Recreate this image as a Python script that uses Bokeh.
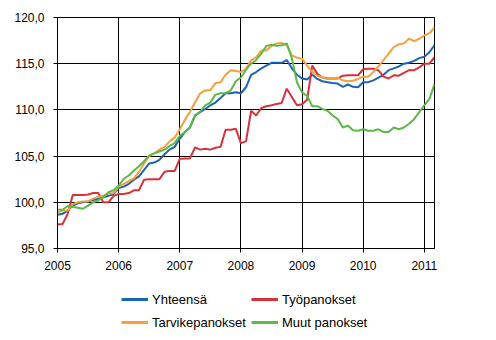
from bokeh.plotting import figure
from bokeh.layouts import column
from bokeh.models import Range1d, FixedTicker, Legend, LegendItem
from bokeh.embed import file_html
from bokeh.resources import INLINE

# Months since January 2005 (2005-01 .. 2011-03)
months = list(range(75))

yhteensa = [98.65, 98.75, 99.1, 99.65, 99.9, 100.0, 100.1, 100.25, 100.35, 100.55, 100.7, 100.9,
            101.55, 101.7, 102.0, 102.45, 102.8, 103.5, 104.2, 104.3, 104.6, 105.2, 105.7, 106.0,
            106.9, 107.6, 108.1, 109.4, 109.75, 110.1, 110.5, 110.8, 111.3, 111.8, 111.8, 111.9,
            111.8, 112.45, 113.8, 114.1, 114.5, 114.8, 115.1, 115.1, 115.1, 115.4, 114.5, 113.8,
            113.4, 113.3, 113.8, 113.35, 113.1, 113.0, 112.9, 112.85, 112.5, 112.75, 112.5, 112.45,
            113.0, 113.0, 113.2, 113.5, 113.8, 114.3, 114.5, 114.7, 115.0, 115.1, 115.3, 115.6,
            115.75, 116.25, 117.0]

tyopanokset = [97.6, 97.65, 98.75, 100.8, 100.8, 100.8, 100.85, 101.0, 101.0, 100.0, 100.0, 100.7,
               100.9, 100.9, 101.0, 101.3, 101.3, 102.45, 102.5, 102.5, 102.5, 103.3, 103.4, 103.4,
               104.7, 104.75, 104.75, 105.95, 105.7, 105.8, 105.7, 105.9, 106.0, 107.85, 107.85, 107.95,
               106.4, 106.6, 109.9, 109.4, 110.2, 110.4, 110.5, 110.65, 110.75, 112.3, 111.4, 110.5,
               110.6, 111.1, 114.8, 113.9, 113.5, 113.4, 113.4, 113.4, 113.7, 113.75, 113.75, 113.75,
               114.4, 114.45, 114.45, 114.3, 113.6, 113.4, 113.75, 113.7, 114.0, 114.3, 114.3, 114.6,
               115.0, 115.0, 115.7]

tarvikepanokset = [98.9, 99.1, 99.1, 99.8, 100.0, 100.1, 100.1, 100.4, 100.6, 100.7, 100.95, 101.0,
                   101.7, 102.0, 102.3, 102.6, 103.3, 104.2, 105.0, 105.3, 105.7, 106.0, 106.6, 107.0,
                   107.9, 108.9, 109.8, 110.8, 111.8, 112.1, 112.15, 112.9, 113.0, 113.8, 114.3, 114.2,
                   114.1, 114.45, 115.35, 115.7, 116.4, 116.45, 116.9, 117.2, 117.25, 117.0, 115.9, 115.65,
                   115.55, 114.8, 114.1, 113.7, 113.5, 113.35, 113.35, 113.5, 113.2, 113.1, 113.15, 113.35,
                   113.6, 113.6, 114.1, 114.7, 115.4, 116.1, 116.8, 117.1, 117.2, 117.7, 117.45, 117.7,
                   118.05, 118.3, 118.9]

muut_panokset = [99.2, 99.2, 99.6, 99.5, 99.4, 99.3, 99.65, 100.0, 100.2, 100.55, 101.1, 101.3,
                 101.8, 102.55, 102.9, 103.45, 103.9, 104.45, 105.05, 105.3, 105.5, 105.7, 106.1, 106.4,
                 107.2, 107.6, 108.1, 109.4, 109.8, 110.5, 110.8, 111.65, 111.8, 111.8, 112.1, 113.1,
                 113.5, 114.35, 115.0, 115.4, 116.1, 116.9, 117.05, 116.95, 117.0, 117.2, 115.6, 113.0,
                 111.9, 111.5, 110.4, 110.4, 110.1, 109.9, 109.4, 109.0, 108.1, 108.3, 107.8, 107.75,
                 107.9, 107.75, 107.75, 107.9, 107.6, 107.6, 108.1, 107.9, 108.1, 108.5, 109.0, 109.75,
                 110.5, 111.2, 112.8]

year_ticks = [0, 12, 24, 36, 48, 60, 72]
year_labels = ["2005", "2006", "2007", "2008", "2009", "2010", "2011"]
y_ticks = [95, 100, 105, 110, 115, 120]
y_labels = ["95,0", "100,0", "105,0", "110,0", "115,0", "120,0"]

names = ["Yhteensä", "Työpanokset", "Tarvikepanokset", "Muut panokset"]
colors = ["#1c64b4", "#d7313a", "#f6a03c", "#5cb947"]

FONT = "Liberation Sans"

p = figure(width=496, height=280, output_backend="svg", toolbar_location=None,
           x_range=Range1d(0, 74), y_range=Range1d(95, 120),
           min_border_left=57, min_border_right=62, min_border_top=17, min_border_bottom=32)

p.outline_line_color = "black"
p.outline_line_width = 1

for ax, ticks, labels in ((p.xaxis[0], year_ticks, year_labels), (p.yaxis[0], y_ticks, y_labels)):
    ax.ticker = FixedTicker(ticks=ticks)
    ax.major_label_overrides = dict(zip(ticks, labels))
    ax.minor_tick_line_color = None
    ax.major_tick_in = 0
    ax.major_tick_out = 4
    ax.major_tick_line_color = "black"
    ax.axis_line_color = "black"
    ax.major_label_text_font = FONT
    ax.major_label_text_font_size = "12px"
    ax.major_label_text_color = "black"
p.xaxis[0].major_label_standoff = 8
p.yaxis[0].major_label_standoff = 9

p.xgrid.grid_line_color = "black"
p.ygrid.grid_line_color = "black"
p.xgrid.grid_line_alpha = 1
p.ygrid.grid_line_alpha = 1

series = [yhteensa, tyopanokset, tarvikepanokset, muut_panokset]
for vals, c in zip(series, colors):
    p.line(months, vals, line_color=c, line_width=2)

# Legend strip below the chart (legend keys are off-range placeholder lines)
lp = figure(width=496, height=60, output_backend="svg", toolbar_location=None,
            x_range=Range1d(0, 1), y_range=Range1d(0, 1),
            x_axis_type=None, y_axis_type=None,
            min_border_left=0, min_border_right=0, min_border_top=0, min_border_bottom=0)
lp.outline_line_color = None
lp.xgrid.visible = False
lp.ygrid.visible = False

items = []
for n, c in zip(names, colors):
    r = lp.line([5, 6], [5, 6], line_color=c, line_width=3)
    items.append(LegendItem(label=n, renderers=[r]))

leg = Legend(items=items, location=(64, 9), orientation="horizontal", ncols=2)
leg.label_text_font = FONT
leg.label_text_font_size = "13px"
leg.label_text_color = "black"
leg.glyph_width = 27
leg.glyph_height = 18
leg.label_height = 18
leg.label_standoff = 4
leg.spacing = 5
leg.padding = 0
leg.margin = 0
leg.border_line_alpha = 0
leg.background_fill_alpha = 0
lp.add_layout(leg, "center")

layout = column(p, lp, spacing=0)
open("out.html", "w").write(file_html(layout, INLINE))
